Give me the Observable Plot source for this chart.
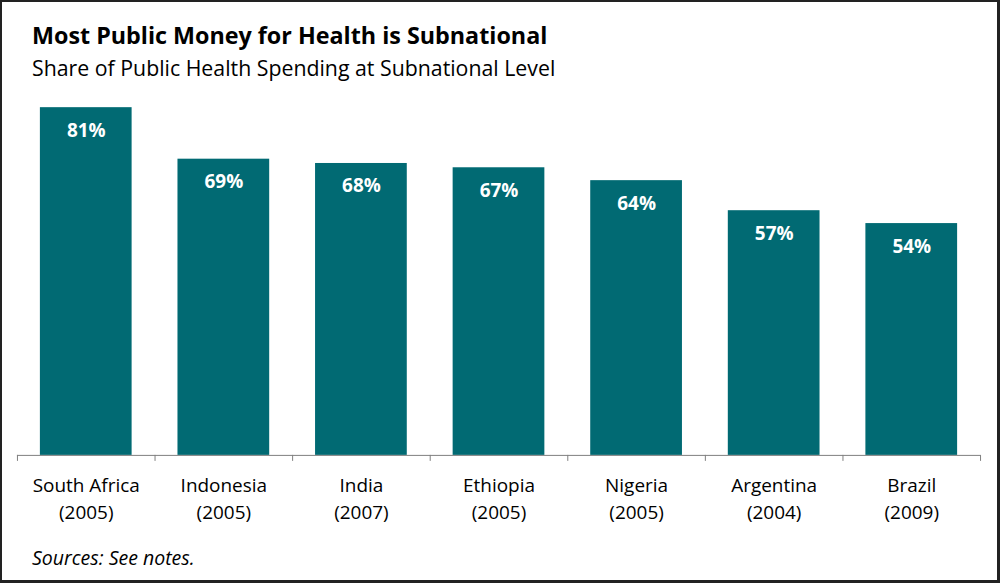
<!DOCTYPE html>
<html>
<head>
<meta charset="utf-8">
<script src="https://cdn.jsdelivr.net/npm/d3@7"></script>
<script src="https://cdn.jsdelivr.net/npm/@observablehq/plot@0.6"></script>
<style>
  html, body { margin: 0; padding: 0; background: #fff; }
  #frame {
    position: relative; width: 1000px; height: 583px; box-sizing: border-box;
    border: 2px solid #222; border-right-width: 3px; border-bottom-width: 3px;
    overflow: hidden; font-family: "Open Sans", Lato, sans-serif; color: #000;
  }
  #title { position: absolute; left: 30px; top: 17px; font-size: 23.3px; font-weight: bold; }
  #subtitle { position: absolute; left: 30px; top: 51px; font-size: 21.3px; }
  #chart { position: absolute; left: -2px; top: 88px; }
  #caption { position: absolute; left: 30px; top: 542px; font-size: 19.5px; font-style: italic; }
</style>
</head>
<body>
<div id="frame">
  <div id="title">Most Public Money for Health is Subnational</div>
  <div id="subtitle">Share of Public Health Spending at Subnational Level</div>
  <div id="chart"></div>
  <div id="caption">Sources: See notes.</div>
</div>
<script>
const countries = ["South Africa", "Indonesia", "India", "Ethiopia", "Nigeria", "Argentina", "Brazil"];
const years = ["2005", "2005", "2007", "2005", "2005", "2004", "2009"];
const shares = [0.81, 0.69, 0.68, 0.67, 0.64, 0.57, 0.54];

const data = countries.map((c, i) => ({country: c, year: years[i], share: shares[i]}));
const yearOf = Object.fromEntries(countries.map((c, i) => [c, years[i]]));
const teal = "#016a73";

const step = (1000 - 34) / countries.length;

const chart = Plot.plot({
  width: 1000,
  height: 440,
  marginTop: 0,
  marginBottom: 74,
  marginLeft: 17,
  marginRight: 17,
  x: {domain: countries, paddingInner: 1/3, paddingOuter: 1/6, label: null},
  y: {domain: [0, 0.85], axis: null},
  style: {fontFamily: "'Open Sans', Lato, sans-serif", color: "#000", background: "transparent", overflow: "visible"},
  marks: [
    Plot.barY(data, {x: "country", y: "share", fill: teal}),
    Plot.text(data, {x: "country", y: "share", text: d => d3.format(".0%")(d.share),
      dy: 23, fill: "white", fontWeight: "bold", fontSize: 19}),
    Plot.ruleY([0], {stroke: "#7f7f7f", strokeWidth: 1}),
    Plot.ruleX(countries, {x: d => d, dx: -step / 2, stroke: "#7f7f7f", insetTop: 366, insetBottom: -6}),
    Plot.ruleX(countries.slice(-1), {x: d => d, dx: step / 2, stroke: "#7f7f7f", insetTop: 366, insetBottom: -6}),
    Plot.axisX({tickSize: 0, tickPadding: 18, fontSize: 19, lineHeight: 1.42,
      tickFormat: d => `${d}\n(${yearOf[d]})`, label: null, fill: "#000"})
  ]
});
document.getElementById("chart").appendChild(chart);
</script>
</body>
</html>
